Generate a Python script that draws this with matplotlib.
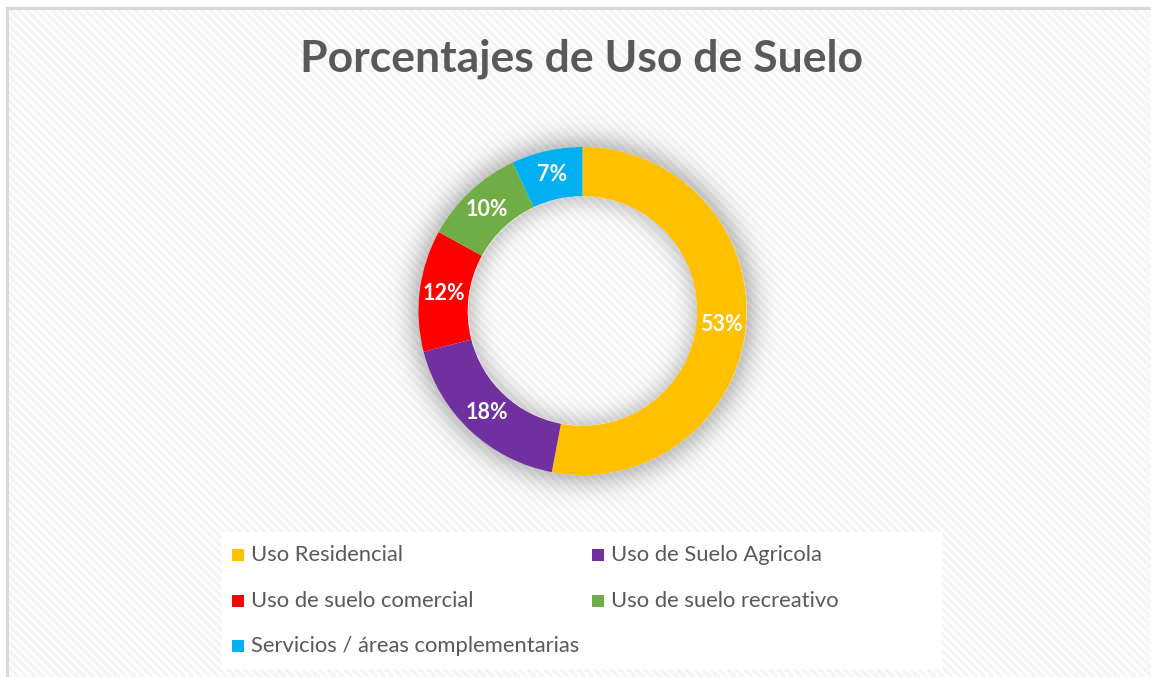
import numpy as np
import matplotlib
matplotlib.use("Agg")
import matplotlib.pyplot as plt
from matplotlib.patches import Rectangle

# Data
categories = [
    "Uso Residencial",
    "Uso de Suelo Agricola",
    "Uso de suelo comercial",
    "Uso de suelo recreativo",
    "Servicios / áreas complementarias",
]
values = [53, 18, 12, 10, 7]
colors = ["#FFC000", "#7030A0", "#FF0000", "#70AD47", "#00B0F0"]
title = "Porcentajes de Uso de Suelo"

W, H = 1151, 677
DPI = 100
TXT = "#595959"
FONT = ["Lato", "DejaVu Sans"]

plt.rcParams["hatch.linewidth"] = 2.4

fig = plt.figure(figsize=(W / DPI, H / DPI), dpi=DPI, facecolor="white")

# Pixel-space background layer: hatched chart area, border, legend box
bg = fig.add_axes([0, 0, 1, 1])
bg.set_xlim(0, W)
bg.set_ylim(H, 0)
bg.axis("off")
bg.add_patch(Rectangle((7, 8), W + 20, H + 20, facecolor="white",
                       edgecolor="#f5f5f5", linewidth=0, hatch="\\\\\\\\",
                       zorder=0))
bg.plot([7, 7], [8, H + 5], color="#d9d9d9", lw=2.2, zorder=1)
bg.plot([7, W + 5], [8, 8], color="#d9d9d9", lw=2.2, zorder=1)

bg.text(582, 59, title, ha="center", va="center", fontsize=32,
        fontweight="bold", color=TXT, family=FONT)

# Legend
bg.add_patch(Rectangle((222, 532), 720, 137, facecolor="white",
                       edgecolor="none", zorder=1))
col_x = [232, 592]
row_y = [555, 601, 646]
for i, (lab, c) in enumerate(zip(categories, colors)):
    lx = col_x[i % 2]
    ly = row_y[i // 2]
    bg.add_patch(Rectangle((lx, ly - 6), 12, 12, facecolor=c,
                           edgecolor="none", zorder=2))
    bg.text(lx + 19, ly, lab, ha="left", va="center", fontsize=15.8,
            color=TXT, family=FONT, zorder=3)

# Donut chart
cx, cy, R = 582.5, 311, 164
half = 210
lim = half / R
ax = fig.add_axes([(cx - half) / W, (H - cy - half) / H, 2 * half / W, 2 * half / H])
ax.axis("off")
ax.patch.set_alpha(0)

ring_w = 0.30
inner = 1 - ring_w

# soft shadow around the ring
n = 600
g = np.linspace(-lim, lim, n)
X, Y = np.meshgrid(g, g)
r = np.hypot(X, Y)
d_out = np.clip(r - 1, 0, None)
d_in = np.clip(inner - r, 0, None)
alpha = np.where(r > 1, 0.22 * np.exp(-(d_out / 0.09) ** 1.5), 0)
alpha = alpha + np.where(r < inner, 0.17 * np.exp(-(d_in / 0.075) ** 1.5), 0)
img = np.zeros((n, n, 4))
img[..., 3] = alpha
ax.imshow(img, extent=(-lim, lim, -lim, lim), origin="lower", zorder=0,
          interpolation="bilinear")

wedges, texts, autotexts = ax.pie(
    values, colors=colors, startangle=90, counterclock=False, radius=1,
    wedgeprops=dict(width=ring_w, edgecolor="none", linewidth=0),
    autopct=lambda p: f"{p:.0f}%", pctdistance=1 - ring_w / 2,
    textprops=dict(color="white", fontsize=15.5, fontweight="bold", family=FONT),
)
for w in wedges:
    w.set_zorder(2)
for t in autotexts:
    t.set_zorder(3)
ax.set_xlim(-lim, lim)
ax.set_ylim(-lim, lim)
ax.set_aspect("equal")

fig.savefig("out.png", dpi=DPI, facecolor="white")
